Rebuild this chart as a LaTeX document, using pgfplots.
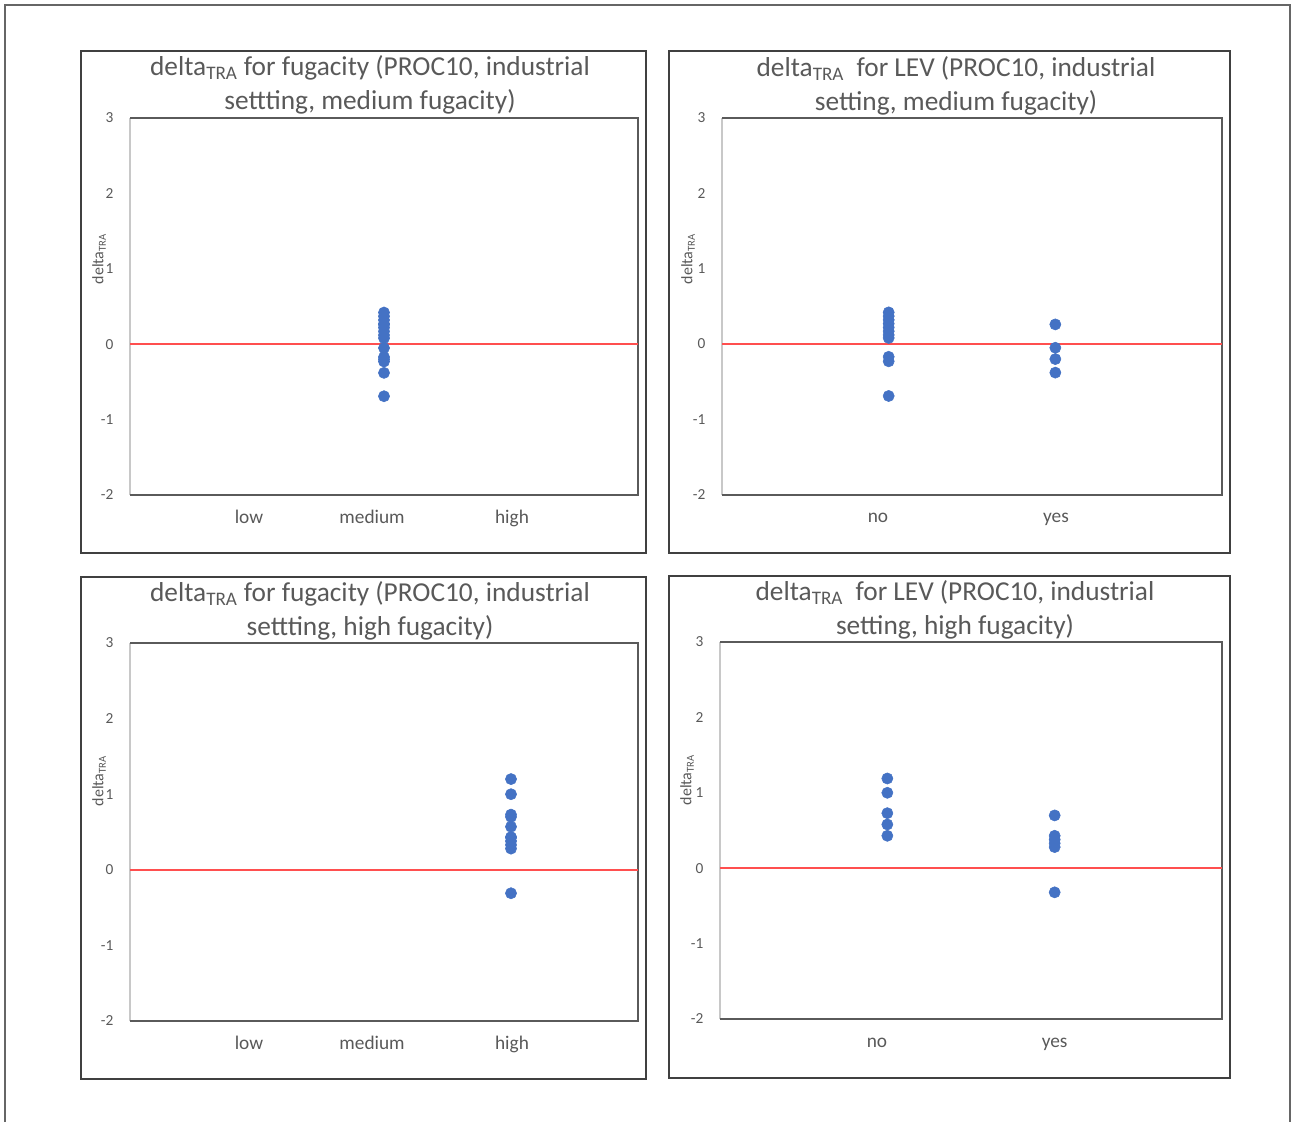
\documentclass[border=0pt]{standalone}
\usepackage{pgfplots}
\pgfplotsset{compat=1.18}
\usepackage{fontspec}
\setmainfont{Carlito}
\definecolor{txt}{HTML}{595959}
\definecolor{dot}{HTML}{4472C4}
\definecolor{refl}{HTML}{FF4F4F}
\definecolor{boxc}{HTML}{404040}
\definecolor{axc}{HTML}{5A5A5A}
\definecolor{axl}{HTML}{C8C8C8}

\pgfplotsset{
  panel/.style={
    scale only axis, anchor=south west, clip=false,
    ymin=-2, ymax=3, ytick={-2,-1,0,1,2,3},
    axis line style={draw=none},
    major tick length=0pt,
    tick label style={text=txt},
    yticklabel style={font=\fontsize{11.5}{13}\selectfont, xshift=-9pt},
    xticklabel style={font=\fontsize{14.5}{17}\selectfont, yshift=-7pt, text height=10.5pt, text depth=3pt},
    /pgf/number format/assume math mode=true,
  },
  dots/.style={only marks, mark=*, mark size=4.2pt, color=dot, mark options={draw=none, fill=dot}},
  zero/.style={draw=refl, color=refl, line width=1.4pt, no marks},
}
\newcommand{\panelframe}{%
  \draw[axl, line width=0.9pt] (rel axis cs:0,0) -- (rel axis cs:0,1);
  \draw[axc, line width=1.4pt] (rel axis cs:0,1) -- (rel axis cs:1,1) -- (rel axis cs:1,0) -- (rel axis cs:0,0);
}

\begin{document}
\begin{tikzpicture}[x=0.75pt, y=0.75pt]
\useasboundingbox (0,0) rectangle (1292,1122);
% outer frame
\draw[boxc!80, line width=0.9pt] (5,0) -- (5,1117) -- (1290,1117) -- (1290,0);
% panel boxes
\draw[boxc, line width=1.1pt] (81,569) rectangle (646,1071);
\draw[boxc, line width=1.1pt] (669,569) rectangle (1230,1071);
\draw[boxc, line width=1.1pt] (81,43) rectangle (646,545);
\draw[boxc, line width=1.1pt] (669,44) rectangle (1230,546);

% ---------- top left ----------
\begin{axis}[panel, at={(97.5pt,470.25pt)}, width=381pt, height=282.75pt,
  xmin=0, xmax=4, xtick={0.937,1.906,3.008}, xticklabels={low,medium,high}]
\panelframe
\addplot[zero] coordinates {(0,0) (4,0)};
\addplot[dots] coordinates {
(2,0.42) (2,0.37) (2,0.32) (2,0.27) (2,0.26) (2,0.22) (2,0.17) (2,0.12) (2,0.08)
(2,-0.05) (2,-0.17) (2,-0.20) (2,-0.23) (2,-0.38) (2,-0.69)};
\end{axis}

% ---------- top right ----------
\begin{axis}[panel, at={(541.5pt,470.5pt)}, width=375pt, height=282.5pt,
  xmin=0, xmax=3, xtick={0.936,2.004}, xticklabels={no,yes}]
\panelframe
\addplot[zero] coordinates {(0,0) (3,0)};
\addplot[dots] coordinates {
(1,0.42) (1,0.37) (1,0.32) (1,0.27) (1,0.22) (1,0.17) (1,0.12) (1,0.08)
(1,-0.17) (1,-0.23) (1,-0.69)};
\addplot[dots] coordinates {(2,0.26) (2,-0.05) (2,-0.20) (2,-0.38)};
\end{axis}

% ---------- bottom left ----------
\begin{axis}[panel, at={(97.5pt,75.75pt)}, width=381pt, height=283.5pt,
  xmin=0, xmax=4, xtick={0.937,1.906,3.008}, xticklabels={low,medium,high}]
\panelframe
\addplot[zero] coordinates {(0,0) (4,0)};
\addplot[dots] coordinates {
(3,1.20) (3,1.00) (3,0.73) (3,0.70) (3,0.57) (3,0.43) (3,0.43) (3,0.38) (3,0.33) (3,0.28) (3,-0.31)};
\end{axis}

% ---------- bottom right ----------
\begin{axis}[panel, at={(540pt,77.25pt)}, width=376.5pt, height=282.75pt,
  xmin=0, xmax=3, xtick={0.938,2.0}, xticklabels={no,yes}]
\panelframe
\addplot[zero] coordinates {(0,0) (3,0)};
\addplot[dots] coordinates {(1,1.19) (1,1.00) (1,0.73) (1,0.58) (1,0.43)};
\addplot[dots] coordinates {(2,0.70) (2,0.43) (2,0.38) (2,0.33) (2,0.28) (2,-0.32)};
\end{axis}

% titles
\begin{scope}[every node/.style={align=center, text=txt, font=\fontsize{20.5}{25.5}\selectfont}]
\node at (370,1037.5) {delta\textsubscript{TRA} for fugacity (PROC10, industrial\\settting, medium fugacity)};
\node at (956,1036.5) {delta\textsubscript{TRA}\ \ for LEV (PROC10, industrial\\setting, medium fugacity)};
\node at (370,511.5) {delta\textsubscript{TRA} for fugacity (PROC10, industrial\\settting, high fugacity)};
\node at (955,512.5) {delta\textsubscript{TRA}\ \ for LEV (PROC10, industrial\\setting, high fugacity)};
\end{scope}
% y labels
\begin{scope}[every node/.style={rotate=90, text=txt, font=\fontsize{12}{14}\selectfont}]
\node at (99,863) {delta\textsubscript{TRA}};
\node at (688,863) {delta\textsubscript{TRA}};
\node at (99,341) {delta\textsubscript{TRA}};
\node at (687,342) {delta\textsubscript{TRA}};
\end{scope}
\end{tikzpicture}
\end{document}
